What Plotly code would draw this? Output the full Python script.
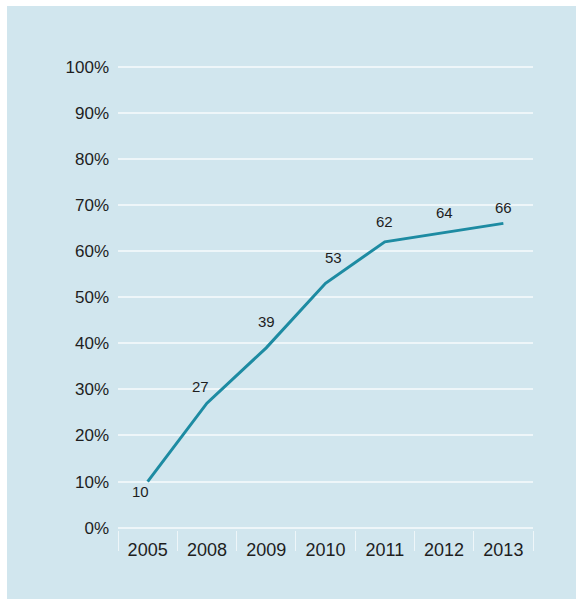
import plotly.graph_objects as go

# Share (%) by year
years = ["2005", "2008", "2009", "2010", "2011", "2012", "2013"]
share = [10, 27, 39, 53, 62, 64, 66]

y_ticks = [0, 10, 20, 30, 40, 50, 60, 70, 80, 90, 100]
y_tick_labels = ["0%", "10%", "20%", "30%", "40%", "50%", "60%",
                 "70%", "80%", "90%", "100%"]

# label nudges (px) relative to each point
label_dx = [-7, -6, 0, 8, 0, 0, 0]
label_dy = [-10, 17, 26, 26, 20, 20, 16]

W, H = 576, 601
L, R, T, B = 118, 43, 62, 71
panel = "#d1e6ee"
grid = "#eef6f9"
txt = "#1e1e1e"
font = "Liberation Sans, Arial, sans-serif"

fig = go.Figure()
fig.add_trace(go.Scatter(
    x=years, y=share, mode="lines",
    line=dict(color="#1d8ba2", width=3),
    hoverinfo="skip", showlegend=False,
))

# value labels; category axes place annotations by category index
for i, (v, dx, dy) in enumerate(zip(share, label_dx, label_dy)):
    fig.add_annotation(
        x=i, y=v, text=str(v), showarrow=False,
        xshift=dx, yshift=dy,
        font=dict(family=font, size=15, color=txt),
    )

# light-blue backdrop panel, inset a few px from the page edges
pw = W - L - R
ph = H - T - B
fig.add_shape(
    type="rect", xref="paper", yref="paper", layer="below",
    x0=(7 - L) / pw, x1=(W - L) / pw,
    y0=-(599 - (H - B)) / ph, y1=1 + (T - 6) / ph,
    fillcolor=panel, line=dict(width=0),
)

fig.update_layout(
    width=W, height=H,
    margin=dict(l=L, r=R, t=T, b=B),
    paper_bgcolor="white",
    plot_bgcolor="rgba(0,0,0,0)",
    font=dict(family=font, color=txt),
    xaxis=dict(
        type="category",
        categoryorder="array", categoryarray=years,
        range=[-0.5, len(years) - 0.5],
        showgrid=False, zeroline=False, showline=False,
        ticks="outside", tickson="boundaries",
        ticklen=20, tickwidth=1, tickcolor=grid,
        ticklabelstandoff=7,
        tickfont=dict(family=font, size=18, color=txt),
    ),
    yaxis=dict(
        range=[-0.5, 101],
        tickvals=y_ticks, ticktext=y_tick_labels,
        showgrid=True, gridcolor=grid, gridwidth=1.5,
        zeroline=True, zerolinecolor=grid, zerolinewidth=1.5,
        showline=False, ticks="",
        ticklabelstandoff=8,
        tickfont=dict(family=font, size=17, color=txt),
    ),
)

fig.write_html("out.html")
